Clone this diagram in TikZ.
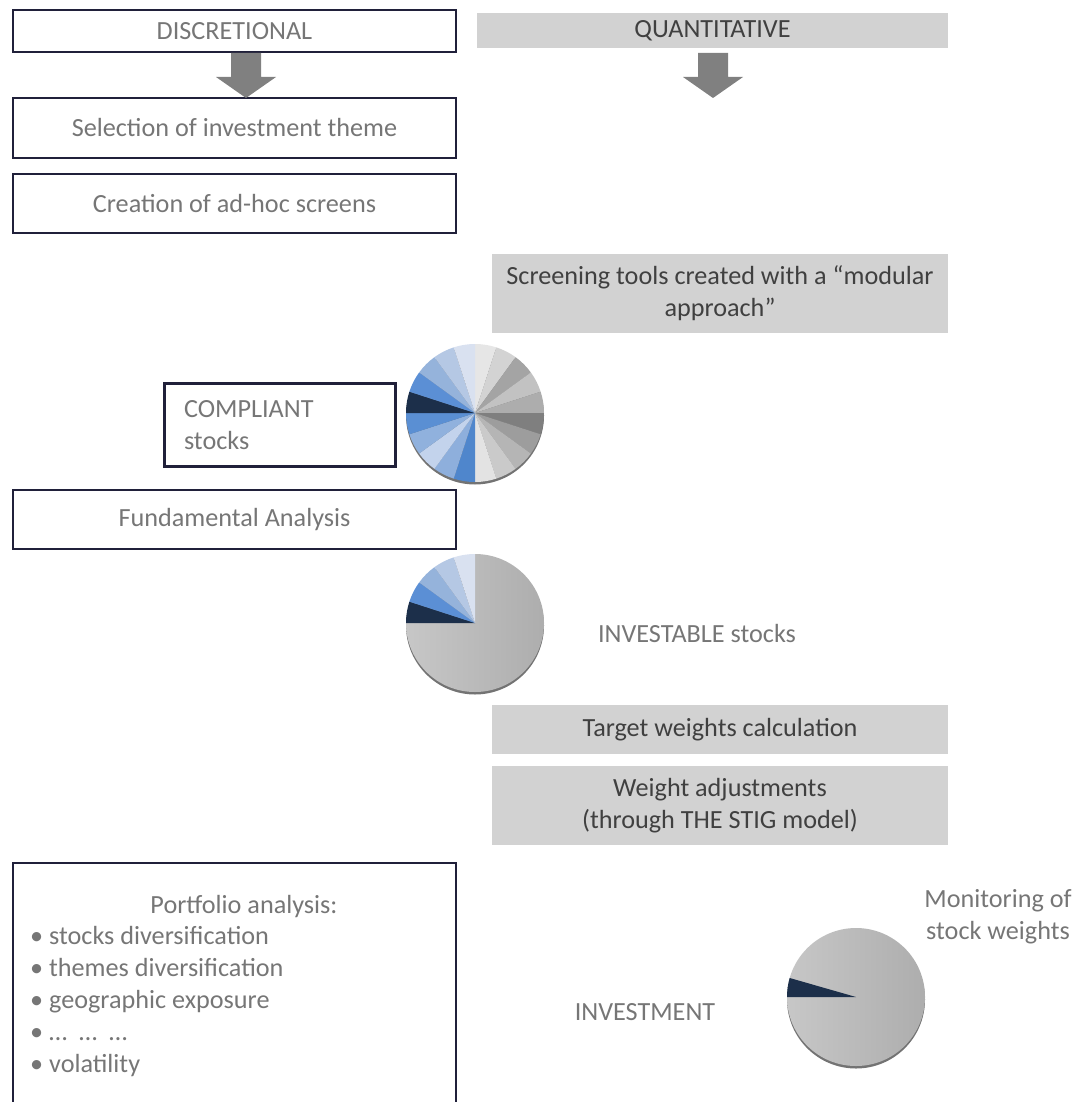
\documentclass[tikz,border=0pt]{standalone}
\usepackage{fontspec}
\setmainfont{Carlito}
\usetikzlibrary{calc}

\definecolor{boxline}{HTML}{20203A}
\definecolor{txtgray}{HTML}{767676}
\definecolor{darktxt}{HTML}{404040}
\definecolor{boxgray}{HTML}{D2D2D2}
\definecolor{arrowgray}{HTML}{808080}
% pie slices
\definecolor{sA}{HTML}{E6E6E6}
\definecolor{sB}{HTML}{D3D3D3}
\definecolor{sC}{HTML}{A4A4A4}
\definecolor{sD}{HTML}{C2C2C2}
\definecolor{sE}{HTML}{ADADAD}
\definecolor{sF}{HTML}{7F7F7F}
\definecolor{sG}{HTML}{9D9D9D}
\definecolor{sH}{HTML}{B5B5B5}
\definecolor{sI}{HTML}{CACACA}
\definecolor{sJ}{HTML}{E3E3E3}
\definecolor{sK}{HTML}{4F86CC}
\definecolor{sL}{HTML}{8EAFDC}
\definecolor{sM}{HTML}{C3D3EC}
\definecolor{sN}{HTML}{90B1DD}
\definecolor{sO}{HTML}{5A8FD3}
\definecolor{sP}{HTML}{1C2F4A}
\definecolor{sQ}{HTML}{5B8FD5}
\definecolor{sR}{HTML}{95B3DB}
\definecolor{sS}{HTML}{B5C8E4}
\definecolor{sT}{HTML}{D9E1F0}

\begin{document}
\begin{tikzpicture}[x=1pt, y=1pt,
        every node/.style={font=\fontsize{26.2}{32}\selectfont, text=txtgray, inner sep=0pt},
        discbox/.style={draw=boxline, line width=2.4pt, minimum width=443pt},
        quantbox/.style={fill=boxgray, text=darktxt, minimum width=456pt, align=center},
        bigarrow/.style={fill=arrowgray},
        pieshadow/.style={fill=black!55},
        piegray/.style={left color=black!22, right color=black!32}
    ]
        \clip (0,0) rectangle (1072,-1102);
        % discretional column
        \node[discbox, minimum height=42pt] (disc) at (234.5,-31) {DISCRETIONAL};
        \node[discbox, minimum height=60pt] (theme) at (234.5,-128) {Selection of investment theme};
        \node[discbox, minimum height=59pt] (screens) at (234.5,-203.5) {Creation of ad-hoc screens};
        \node[discbox, minimum width=231pt, minimum height=83pt, align=left] (compliant) at (280,-425)
            {\makebox[192pt][l]{COMPLIANT}\\\makebox[192pt][l]{stocks}};
        \node[discbox, minimum height=59pt] (fundamental) at (234.5,-519.5) {Fundamental Analysis};
        \node[discbox, minimum height=267pt] (portfolio) at (234.5,-996.5) {};
        \node (pfhead) at (244,-907) {Portfolio analysis:};
        \node[anchor=west, align=left] (pflist) at (30,-1002)
            {• stocks diversification\\• themes diversification\\• geographic exposure\\• …\ \ …\ \ …\\• volatility};
        % quantitative column
        \node[quantbox, minimum width=471pt, minimum height=35pt] (quant) at (712.5,-30.5) {QUANTITATIVE};
        \node[quantbox, minimum height=79pt] (screening) at (720,-293.5)
            {Screening tools created with a “modular\\approach”};
        \node (investable) at (697,-633) {INVESTABLE stocks};
        \node[quantbox, minimum height=49pt] (target) at (720,-729.5) {Target weights calculation};
        \node[quantbox, minimum height=79pt] (adjust) at (720,-805.5)
            {Weight adjustments\\(through THE STIG model)};
        \node (investment) at (645,-1012) {INVESTMENT};
        \node[align=center] (monitor) at (998,-917) {Monitoring of\\stock weights};
        % block arrows
        \coordinate (arrL) at (246,-53);
        \coordinate (arrR) at (713,-53);
        \fill[bigarrow] ([xshift=-15pt]arrL) -- ([xshift=15pt]arrL) -- ++(0,-24) -- ++(15,0)
            -- ++(-30,-21) -- ++(-30,21) -- ++(15,0) -- cycle;
        \fill[bigarrow] ([xshift=-15pt]arrR) -- ([xshift=15pt]arrR) -- ++(0,-24) -- ++(15,0)
            -- ++(-30,-21) -- ++(-30,21) -- ++(15,0) -- cycle;
        % pies
        \coordinate (pieA) at (475,-413);
        \coordinate (pieB) at (475,-623);
        \coordinate (pieC) at (856,-997);
        \foreach \p in {pieA,pieB,pieC}
            \fill[pieshadow] ([yshift=-2.5pt]\p) circle (69);
        \foreach \a/\c in {90/sA,72/sB,54/sC,36/sD,18/sE,0/sF,-18/sG,-36/sH,-54/sI,-72/sJ,
                -90/sK,-108/sL,-126/sM,-144/sN,-162/sO,-180/sP,-198/sQ,-216/sR,-234/sS,-252/sT}
            \fill[\c] (pieA) -- ++(\a:69) arc[start angle=\a, end angle=\a-18, radius=69] -- cycle;
        \shade[piegray] (pieB) -- ++(90:69) arc[start angle=90, end angle=-180, radius=69] -- cycle;
        \foreach \a/\c in {-180/sP,-198/sQ,-216/sR,-234/sS,-252/sT}
            \fill[\c] (pieB) -- ++(\a:69) arc[start angle=\a, end angle=\a-18, radius=69] -- cycle;
        \shade[piegray] (pieC) circle (69);
        \fill[sP] (pieC) -- ++(180:69) arc[start angle=180, end angle=164, radius=69] -- cycle;
    \end{tikzpicture}
\end{document}
